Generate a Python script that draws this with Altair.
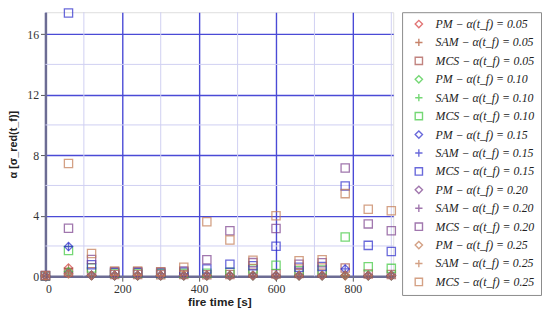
import altair as alt
import pandas as pd

# ---- data ----
times = [0, 60, 120, 180, 240, 300, 360, 420, 480, 540, 600, 660, 720, 780, 840, 900]
alphas = ["0.05", "0.10", "0.15", "0.20", "0.25"]

pm_005 = [0.02, 0.55, 0.04, 0.03, 0.03, 0.03, 0.03, 0.03, 0.03, 0.03, 0.03, 0.03, 0.03, 0.03, 0.03, 0.03]
sam_005 = [0.02, 0.50, 0.04, 0.03, 0.03, 0.03, 0.03, 0.03, 0.03, 0.03, 0.03, 0.03, 0.03, 0.03, 0.03, 0.03]
mcs_005 = [0.01, 0.26, 0.30, 0.12, 0.12, 0.10, 0.12, 0.10, 0.12, 0.20, 0.15, 0.18, 0.20, 0.55, 0.15, 0.12]

pm_010 = [0.02, 0.30, 0.05, 0.04, 0.04, 0.04, 0.04, 0.04, 0.04, 0.04, 0.04, 0.04, 0.04, 0.05, 0.04, 0.04]
sam_010 = [0.02, 0.28, 0.05, 0.04, 0.04, 0.04, 0.04, 0.04, 0.04, 0.04, 0.04, 0.04, 0.04, 0.05, 0.04, 0.04]
mcs_010 = [0.02, 1.70, 0.54, 0.20, 0.20, 0.18, 0.20, 0.20, 0.26, 0.48, 0.72, 0.37, 0.41, 2.60, 0.63, 0.52]

pm_015 = [0.02, 1.96, 0.06, 0.05, 0.05, 0.05, 0.05, 0.05, 0.05, 0.05, 0.05, 0.05, 0.05, 0.48, 0.05, 0.05]
sam_015 = [0.02, 1.96, 0.06, 0.05, 0.05, 0.05, 0.05, 0.05, 0.05, 0.05, 0.05, 0.05, 0.05, 0.48, 0.05, 0.05]
mcs_015 = [0.03, 17.40, 0.76, 0.25, 0.25, 0.22, 0.28, 0.48, 0.80, 0.70, 1.98, 0.59, 0.65, 5.96, 2.04, 1.63]

pm_020 = [0.02, 0.20, 0.06, 0.05, 0.05, 0.05, 0.05, 0.05, 0.05, 0.05, 0.05, 0.05, 0.05, 0.06, 0.05, 0.05]
sam_020 = [0.02, 0.20, 0.06, 0.05, 0.05, 0.05, 0.05, 0.05, 0.05, 0.05, 0.05, 0.05, 0.05, 0.06, 0.05, 0.05]
mcs_020 = [0.05, 3.17, 1.10, 0.30, 0.30, 0.28, 0.35, 1.09, 3.00, 0.90, 3.15, 0.80, 0.89, 7.15, 3.46, 3.00]

pm_025 = [0.02, 0.15, 0.06, 0.05, 0.05, 0.05, 0.05, 0.05, 0.05, 0.05, 0.05, 0.05, 0.05, 0.06, 0.05, 0.05]
sam_025 = [0.02, 0.15, 0.06, 0.05, 0.05, 0.05, 0.05, 0.05, 0.05, 0.05, 0.05, 0.05, 0.05, 0.06, 0.05, 0.05]
mcs_025 = [0.05, 7.45, 1.50, 0.35, 0.35, 0.30, 0.60, 3.60, 2.40, 1.05, 4.00, 1.02, 1.09, 5.46, 4.43, 4.33]

series_values = {
    ("PM", "0.05"): pm_005, ("SAM", "0.05"): sam_005, ("MCS", "0.05"): mcs_005,
    ("PM", "0.10"): pm_010, ("SAM", "0.10"): sam_010, ("MCS", "0.10"): mcs_010,
    ("PM", "0.15"): pm_015, ("SAM", "0.15"): sam_015, ("MCS", "0.15"): mcs_015,
    ("PM", "0.20"): pm_020, ("SAM", "0.20"): sam_020, ("MCS", "0.20"): mcs_020,
    ("PM", "0.25"): pm_025, ("SAM", "0.25"): sam_025, ("MCS", "0.25"): mcs_025,
}

major_x = [0, 200, 400, 600, 800]
minor_x = [100, 300, 500, 700, 900]
major_y = [0, 4, 8, 12, 16]
minor_y = [2, 6, 10, 14]

# ---- styles ----
alpha_colors = {
    "0.05": ["#d63a3a", "#b0502c", "#a8504a"],
    "0.10": ["#3cc83c", "#3cc83c", "#3cc83c"],
    "0.15": ["#2b2bcc", "#2b2bcc", "#2b2bcc"],
    "0.20": ["#7a3e8c", "#7a3e8c", "#7a3e8c"],
    "0.25": ["#c27a52", "#c27a52", "#c27a52"],
}
method_shapes = {"PM": "diamond", "SAM": "M-1,0H1M0,-1V1", "MCS": "square"}
methods = ["PM", "SAM", "MCS"]

labels, colors, shapes = [], [], []
rows = []
for a in alphas:
    for i, m in enumerate(methods):
        lab = f"{m} − α(t_f) = {a}"
        labels.append(lab)
        colors.append(alpha_colors[a][i])
        shapes.append(method_shapes[m])
        for t, v in zip(times, series_values[(m, a)]):
            rows.append({"t": t, "v": v, "series": lab})
df = pd.DataFrame(rows)

xscale = alt.Scale(domain=[0, 905], nice=False, zero=False)
yscale = alt.Scale(domain=[0, 17.45], nice=False, zero=False)

minor_grid_x = alt.Chart(pd.DataFrame({"t": minor_x})).mark_rule(
    color="#cfcff2", strokeWidth=1
).encode(x=alt.X("t:Q", scale=xscale))
minor_grid_y = alt.Chart(pd.DataFrame({"v": minor_y})).mark_rule(
    color="#cfcff2", strokeWidth=1
).encode(y=alt.Y("v:Q", scale=yscale))

points = alt.Chart(df).mark_point(filled=False, strokeWidth=1.3, size=70, clip=False).encode(
    x=alt.X(
        "t:Q", scale=xscale,
        axis=alt.Axis(
            values=major_x, title="fire time [s]", grid=True, gridColor="#4a4ad6",
            gridWidth=1.4, domainColor="#6c6c94", domainWidth=2.5, tickColor="#555",
            tickSize=5, labelFont="Liberation Serif", labelFontSize=12, labelColor="#333",
            titleFont="Liberation Sans", titleFontWeight="bold", titleFontSize=12,
            titleColor="#222", titlePadding=3, labelPadding=2,
        ),
    ),
    y=alt.Y(
        "v:Q", scale=yscale,
        axis=alt.Axis(
            values=major_y, title="α [σ_red(t_f)]", grid=True, gridColor="#4a4ad6",
            gridWidth=1.4, domainColor="#6c6c94", domainWidth=2.5, tickColor="#555",
            tickSize=5, labelFont="Liberation Serif", labelFontSize=12, labelColor="#333",
            titleFont="Liberation Sans", titleFontWeight="bold", titleFontSize=11,
            titleColor="#222", titlePadding=8, labelPadding=2,
        ),
    ),
    color=alt.Color(
        "series:N", scale=alt.Scale(domain=labels, range=colors),
        legend=alt.Legend(
            title=None, orient="right", offset=9, labelFont="Liberation Serif",
            labelFontStyle="italic", labelFontSize=12, labelColor="#222",
            symbolStrokeWidth=1.4, symbolSize=55, rowPadding=4.7, padding=6,
            symbolOffset=5, labelOffset=11,
            strokeColor="#8a8a8a", fillColor="white", labelLimit=200,
        ),
    ),
    shape=alt.Shape("series:N", scale=alt.Scale(domain=labels, range=shapes)),
)

chart = alt.layer(minor_grid_x, minor_grid_y, points).properties(
    width=353, height=268, padding={"top": -5, "left": 0, "right": 0, "bottom": 0}
).configure_view(stroke="#555", strokeWidth=1).configure(background="white")

chart.save("out.html", embed_options={"renderer": "svg", "actions": False})
